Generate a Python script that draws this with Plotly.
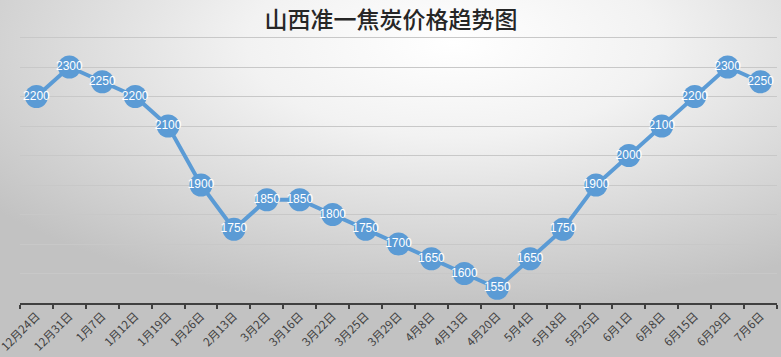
import base64
import plotly.graph_objects as go

dates = ["12月24日", "12月31日", "1月7日", "1月12日", "1月19日", "1月26日", "2月13日",
         "3月2日", "3月16日", "3月22日", "3月25日", "3月29日", "4月8日", "4月13日",
         "4月20日", "5月4日", "5月18日", "5月25日", "6月1日", "6月8日", "6月15日",
         "6月29日", "7月6日"]
prices = [2200, 2300, 2250, 2200, 2100, 1900, 1750, 1850, 1850, 1800, 1750, 1700,
          1650, 1600, 1550, 1650, 1750, 1900, 2000, 2100, 2200, 2300, 2250]
title_text = "山西准一焦炭价格趋势图"

svg = """<svg xmlns='http://www.w3.org/2000/svg' width='781' height='357'>
<defs><radialGradient id='g' cx='58%' cy='12%' r='75%' gradientUnits='objectBoundingBox'>
<stop offset='0' stop-color='#ffffff'/><stop offset='0.35' stop-color='#f2f2f2'/>
<stop offset='1' stop-color='#c2c2c2'/></radialGradient></defs>
<rect width='781' height='357' fill='url(#g)'/></svg>"""
bg = "data:image/svg+xml;base64," + base64.b64encode(svg.encode()).decode()

fig = go.Figure()
fig.add_trace(go.Scatter(
    x=dates, y=prices, mode="lines+markers+text",
    line=dict(color="#5B9BD5", width=4),
    marker=dict(color="#5B9BD5", size=23),
    text=[str(v) for v in prices], textposition="middle center",
    textfont=dict(color="white", size=12, family="Liberation Sans"),
    cliponaxis=False, hoverinfo="skip"))

fig.update_layout(
    width=781, height=357,
    margin=dict(l=20, r=4, t=8, b=54, autoexpand=False),
    paper_bgcolor="rgba(0,0,0,0)", plot_bgcolor="rgba(0,0,0,0)",
    showlegend=False,
    images=[dict(source=bg, xref="paper", yref="paper", x=-20/757, y=1 + 8/295,
                 sizex=781/757, sizey=357/295, xanchor="left", yanchor="top",
                 sizing="stretch", layer="below")],
    title=dict(text=title_text, x=391/781, xanchor="center", y=1 - 19.5/357, yanchor="middle",
               automargin=False,
               font=dict(size=23, color="#262626", family="Noto Sans CJK SC", weight=500)),
    xaxis=dict(type="category", showgrid=False, showline=True, linecolor="#404040", linewidth=2,
               ticks="outside", ticklen=4, tickcolor="#404040", tickwidth=2,
               tickson="boundaries", tickangle=-45, automargin=False,
               tickfont=dict(size=11.5, color="#404040", family="Noto Sans CJK SC"),
               range=[-0.5, len(dates) - 0.5], fixedrange=True),
    yaxis=dict(range=[1500, 2500], dtick=100, showticklabels=False, showgrid=True,
               gridcolor="#c8c8c8", gridwidth=1, zeroline=False, showline=False,
               automargin=False, fixedrange=True),
)

fig.write_html("out.html", config={"displayModeBar": False},
               post_script="document.body.style.margin='0';document.body.style.overflow='hidden';")
